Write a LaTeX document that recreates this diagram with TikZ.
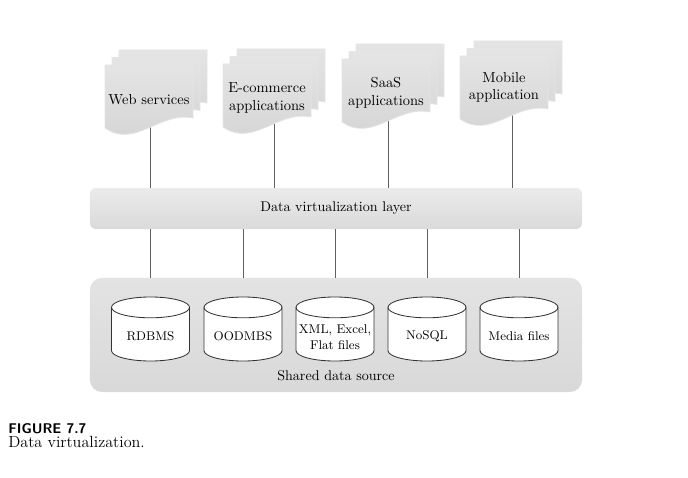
\documentclass[tikz,border=0pt]{standalone}
\usepackage{tikz}
\usetikzlibrary{positioning}

% one sheet of a document stack, #1,#2 = its top left corner
\newcommand{\DocSheet}[2]{%
  \path[sheet, shift={(#1,#2)}] (0,0) -- (88,0) -- (88,53)
    .. controls (55,46) and (30,84) .. (0,63) -- cycle;}

\begin{document}
\begin{tikzpicture}[x=0.025cm, y=-0.025cm,
    sheet/.style={draw=white!80!gray, line width=0.6pt, top color=gray!21, bottom color=gray!34},
    link/.style={draw=gray!75!black, line width=0.7pt},
    layerbox/.style={rounded corners=0.15cm, top color=gray!16, bottom color=gray!29, minimum width=12.3cm, inner sep=0pt},
    storeline/.style={draw=gray!40!black, line width=0.6pt},
    storetext/.style={inner sep=0pt, align=center, font=\fontsize{9}{11}\selectfont},
    doctext/.style={align=center, font=\fontsize{10.3}{12.5}\selectfont, inner sep=0pt},
    % a data store drawn as a cylinder round its centre
    dbcyl/.pic={
      \draw[storeline, fill=white] (-0.975cm,0.54cm) -- (-0.975cm,-0.54cm)
        arc[start angle=180, end angle=360, x radius=0.975cm, y radius=0.26cm]
        -- (0.975cm,0.54cm)
        arc[start angle=0, end angle=180, x radius=0.975cm, y radius=0.26cm] -- cycle;
      \draw[storeline] (-0.975cm,0.54cm)
        arc[start angle=180, end angle=360, x radius=0.975cm, y radius=0.26cm];
    },
    font=\fontsize{10}{12}\selectfont
  ]
  \useasboundingbox (0,0) rectangle (688,478);

  % layers
  \node[layerbox, minimum height=1.025cm] (virt) at (336,208.5) {Data virtualization layer};
  \node[layerbox, rounded corners=0.3cm, minimum height=2.85cm, top color=gray!22, bottom color=gray!30] (source) at (336,335) {};
  \node[inner sep=0pt, anchor=base] (sourceLbl) at (336,380) {Shared data source};

  % data stores
  \foreach \x in {150.5,243,335,427,519}
    \pic at (\x,329) {dbcyl};
  \node[storetext] (rdbms) at (150.5,336) {RDBMS};
  \node[storetext] (oodmbs) at (243,336) {OODMBS};
  \node[storetext] (flat) at (335,337) {XML, Excel,\\Flat files};
  \node[storetext] (nosql) at (427,336) {NoSQL};
  \node[storetext] (media) at (519,336) {Media files};
  \foreach \s in {rdbms,oodmbs,flat,nosql,media}
    \draw[link] (\s |- virt.south) -- (\s |- source.north);

  % application links (drawn first, the sheets hide their upper end)
  \coordinate (webFoot) at (150,115);
  \coordinate (shopFoot) at (274,115);
  \coordinate (saasFoot) at (388,110);
  \coordinate (mobileFoot) at (512,105);
  \foreach \f in {webFoot,shopFoot,saasFoot,mobileFoot}
    \draw[link] (\f) -- (\f |- virt.north);

  % document stacks
  \foreach \x/\y in {105/65, 223/64, 342/59, 460/56}{
    \DocSheet{\x+14}{\y-15}
    \DocSheet{\x+7}{\y-7.5}
    \DocSheet{\x}{\y}
  }
  \node[doctext] (web) at (149,100) {Web services};
  \node[doctext] (shop) at (267,98) {E-commerce\\applications};
  \node[doctext] (saas) at (386,93) {SaaS\\applications};
  \node[doctext] (mobile) at (504,87.5) {Mobile\\application};

  % caption
  \node[inner sep=0pt, anchor=base west, font=\fontsize{10}{12}\selectfont\sffamily\bfseries] (figNum) at (8,433) {FIGURE 7.7};
  \node[inner sep=0pt, anchor=base west, font=\fontsize{11.5}{13}\selectfont] (figText) at (8,447) {Data virtualization.};
\end{tikzpicture}
\end{document}
